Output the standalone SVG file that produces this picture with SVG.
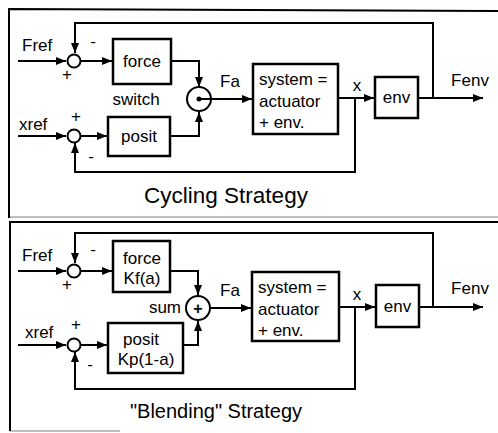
<svg xmlns="http://www.w3.org/2000/svg" width="498" height="433" viewBox="0 0 498 433">
<style>
  .ln{fill:none;stroke:#000;stroke-width:2}
  .bx{fill:#fff;stroke:#000;stroke-width:2.5}
  .cr{fill:#fff;stroke:#000;stroke-width:2}
  .fr{fill:none;stroke:#000;stroke-width:2}
  text{font-family:"Liberation Sans",Arial,Helvetica,sans-serif;font-size:17px;fill:#000}
  .c{text-anchor:middle}
  .t{font-size:20px;text-anchor:middle}
</style>
<defs>
  <marker id="ar" markerUnits="userSpaceOnUse" markerWidth="11" markerHeight="9" refX="10" refY="4" orient="auto">
    <path d="M0,0 L10,4 L0,8 z" fill="#000"/>
  </marker>
</defs>
<rect width="498" height="433" fill="#fff"/>
<g id="frame">
  <path class="fr" d="M9,218 V9 L498,11"/>
  <path d="M9,217 H498" stroke="#000" stroke-width="1" opacity="0.5"/>
  <path class="fr" d="M10,431 V222 H498"/>
  <path d="M10,431 H120" stroke="#000" stroke-width="1" opacity="0.5"/>
</g>

<!-- ===== Cycling strategy ===== -->
<g id="connectors-top">
  <path class="ln" d="M18,61 H66" marker-end="url(#ar)"/>
  <path class="ln" d="M81,61 H112" marker-end="url(#ar)"/>
  <path class="ln" d="M171,61 H199 V87" marker-end="url(#ar)"/>
  <path class="ln" d="M18,136 H66" marker-end="url(#ar)"/>
  <path class="ln" d="M81,136 H107" marker-end="url(#ar)"/>
  <path class="ln" d="M170,136 H199 V112" marker-end="url(#ar)"/>
  <path class="ln" d="M199,99 H252" marker-end="url(#ar)"/>
  <path class="ln" d="M338,98 H374" marker-end="url(#ar)"/>
  <path class="ln" d="M418,98 H483" marker-end="url(#ar)"/>
  <path class="ln" d="M433,98 V23 H75 V53" marker-end="url(#ar)"/>
  <path class="ln" d="M355,98 V172 H75 V143" marker-end="url(#ar)"/>
</g>
<g id="sum-fref-1"><circle class="cr" cx="74" cy="61" r="6.5"/></g>
<g id="sum-xref-1"><circle class="cr" cx="74" cy="136" r="6.5"/></g>
<g id="force-1"><rect class="bx" x="113" y="39" width="58" height="45"/><text class="c" x="142" y="67">force</text></g>
<g id="posit-1"><rect class="bx" x="108" y="117" width="62" height="39"/><text class="c" x="139" y="142">posit</text></g>
<g id="switch-1">
  <circle class="cr" cx="199" cy="99" r="12"/>
  <circle cx="199" cy="99" r="2.5" fill="#000"/>
  <path class="ln" d="M199,99 H211"/>
  <text class="c" x="136" y="105">switch</text>
</g>
<g id="system-1"><rect class="bx" x="253" y="64" width="85" height="70"/>
  <text x="259" y="85">system =</text><text x="259" y="107">actuator</text><text x="259" y="128">+ env.</text></g>
<g id="env-1"><rect class="bx" x="375" y="77" width="43" height="41"/><text class="c" x="396.5" y="103">env</text></g>
<g id="labels-1">
  <text x="22" y="51">Fref</text>
  <text x="19" y="130">xref</text>
  <text class="c" x="93" y="47">-</text>
  <text class="c" x="67" y="80">+</text>
  <text class="c" x="76" y="122">+</text>
  <text class="c" x="91" y="162">-</text>
  <text class="c" x="230" y="87">Fa</text>
  <text class="c" x="357" y="91">x</text>
  <text class="c" x="470" y="86">Fenv</text>
  <text class="t" x="226" y="203" style="font-size:22.5px">Cycling Strategy</text>
</g>

<!-- ===== Blending strategy ===== -->
<g id="connectors-bottom">
  <path class="ln" d="M18,271 H66" marker-end="url(#ar)"/>
  <path class="ln" d="M81,271 H112" marker-end="url(#ar)"/>
  <path class="ln" d="M170,271 H198 V295" marker-end="url(#ar)"/>
  <path class="ln" d="M18,345 H66" marker-end="url(#ar)"/>
  <path class="ln" d="M81,345 H107" marker-end="url(#ar)"/>
  <path class="ln" d="M183,345 H198 V321" marker-end="url(#ar)"/>
  <path class="ln" d="M210,308 H251" marker-end="url(#ar)"/>
  <path class="ln" d="M339,307 H375" marker-end="url(#ar)"/>
  <path class="ln" d="M419,307 H483" marker-end="url(#ar)"/>
  <path class="ln" d="M433,307 V233 H75 V263" marker-end="url(#ar)"/>
  <path class="ln" d="M355,307 V389 H75 V352" marker-end="url(#ar)"/>
</g>
<g id="sum-fref-2"><circle class="cr" cx="74" cy="271" r="6.5"/></g>
<g id="sum-xref-2"><circle class="cr" cx="74" cy="345" r="6.5"/></g>
<g id="force-2"><rect class="bx" x="113" y="241" width="57" height="51"/>
  <text class="c" x="142" y="264">force</text><text class="c" x="142" y="284">Kf(a)</text></g>
<g id="posit-2"><rect class="bx" x="108" y="323" width="75" height="50"/>
  <text class="c" x="141" y="345">posit</text><text class="c" x="146" y="365">Kp(1-a)</text></g>
<g id="sum-2">
  <circle class="cr" cx="198" cy="308" r="12"/>
  <text class="c" x="198" y="314" style="font-size:16px;font-weight:bold">+</text>
  <text x="181" y="313" text-anchor="end">sum</text>
</g>
<g id="system-2"><rect class="bx" x="252" y="272" width="87" height="69"/>
  <text x="258" y="293">system =</text><text x="258" y="315">actuator</text><text x="258" y="336">+ env.</text></g>
<g id="env-2"><rect class="bx" x="376" y="285" width="43" height="42"/><text class="c" x="397.5" y="312">env</text></g>
<g id="labels-2">
  <text x="22" y="261">Fref</text>
  <text x="25" y="338">xref</text>
  <text class="c" x="93" y="255">-</text>
  <text class="c" x="67" y="290">+</text>
  <text class="c" x="76" y="330">+</text>
  <text class="c" x="90" y="370">-</text>
  <text class="c" x="230" y="296">Fa</text>
  <text class="c" x="357" y="300">x</text>
  <text class="c" x="470" y="294">Fenv</text>
  <text class="t" x="216" y="418">"Blending" Strategy</text>
</g>
</svg>
